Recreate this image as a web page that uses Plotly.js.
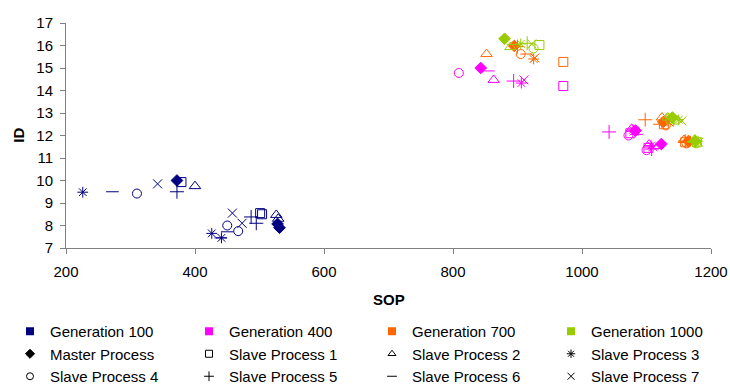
<!DOCTYPE html>
<html><head><meta charset="utf-8">
<script src="https://cdn.plot.ly/plotly-3.0.1.min.js"></script>
<style>body{margin:0;background:#fff}#chart{width:730px;height:385px}</style>
</head><body><div id="chart"></div>
<script>
// Generations (each contributes 3 points per process, in order 100, 400, 700, 1000)
const generations = ['Generation 100', 'Generation 400', 'Generation 700', 'Generation 1000'];
const genColors = ['#000080', '#FF00FF', '#FF6600', '#99CC00'];

const processes = ['Master Process', 'Slave Process 1', 'Slave Process 2', 'Slave Process 3',
  'Slave Process 4', 'Slave Process 5', 'Slave Process 6', 'Slave Process 7'];

const masterSOP = [372, 528, 531,  843, 1083, 1123,  895, 1126, 1165,  880, 1140, 1176];
const masterID  = [10.0, 8.07, 7.9, 15.0, 12.22, 11.62, 15.98, 12.6, 11.75, 16.3, 12.8, 11.75];
const slave1SOP = [379, 501, 504,  971, 1075, 1103,  971, 1127, 1160,  934, 1137, 1178];
const slave1ID  = [9.93, 8.55, 8.5, 14.2, 12.1, 11.45, 15.27, 12.5, 11.7, 16.02, 12.75, 11.7];
const slave2SOP = [400, 526, 529,  863, 1077, 1104,  852, 1124, 1158,  889, 1133, 1174];
const slave2ID  = [9.75, 8.47, 8.3, 14.47, 12.3, 11.6, 15.62, 12.8, 11.8, 15.93, 12.8, 11.8];
const slave3SOP = [226, 426, 441,  906, 1079, 1107,  925, 1132, 1168,  905, 1150, 1180];
const slave3ID  = [9.48, 7.65, 7.45, 14.33, 12.25, 11.55, 15.4, 12.65, 11.75, 16.07, 12.7, 11.75];
const slave4SOP = [310, 450, 467,  809, 1072, 1100,  905, 1130, 1162,  925, 1145, 1177];
const slave4ID  = [9.42, 8.0, 7.75, 14.78, 12.0, 11.35, 15.62, 12.45, 11.65, 15.87, 12.7, 11.65];
const slave5SOP = [372, 487, 495,  894, 1042, 1108,  900, 1098, 1160,  915, 1142, 1175];
const slave5ID  = [9.5, 8.38, 8.1, 14.42, 12.16, 11.4, 15.95, 12.7, 11.75, 16.1, 12.72, 11.75];
const slave6SOP = [272, 450, 440,  855, 1085, 1112,  914, 1120, 1163,  893, 1147, 1172];
const slave6ID  = [9.5, 7.72, 7.45, 14.87, 12.05, 11.42, 15.62, 12.5, 11.72, 16.05, 12.7, 11.72];
const slave7SOP = [342, 458, 473,  910, 1081, 1110,  927, 1135, 1166,  922, 1155, 1181];
const slave7ID  = [9.85, 8.55, 8.1, 14.47, 12.2, 11.5, 15.45, 12.6, 11.7, 16.07, 12.65, 11.7];

const xTicks = [200, 400, 600, 800, 1000, 1200];
const yTicks = [7, 8, 9, 10, 11, 12, 13, 14, 15, 16, 17];
const xTitle = 'SOP';
const yTitle = 'ID';

const procSOP = [masterSOP, slave1SOP, slave2SOP, slave3SOP, slave4SOP, slave5SOP, slave6SOP, slave7SOP];
const procID = [masterID, slave1ID, slave2ID, slave3ID, slave4ID, slave5ID, slave6ID, slave7ID];
const symbols = ['diamond', 'square-open', 'triangle-up-open', 'asterisk-open', 'circle-open',
  'cross-thin-open', 'line-ew-open', 'x-thin-open'];
const sizes = [9, 9, 10, 9, 9, 10, 9, 9];
const perGen = 3;

const traces = [];
generations.forEach((g, gi) => {
  processes.forEach((p, pi) => {
    traces.push({
      type: 'scatter', mode: 'markers', showlegend: false, hoverinfo: 'x+y',
      x: procSOP[pi].slice(gi * perGen, gi * perGen + perGen),
      y: procID[pi].slice(gi * perGen, gi * perGen + perGen),
      marker: { symbol: symbols[pi], size: sizes[pi], color: genColors[gi],
        line: { color: genColors[gi], width: 1 } }
    });
  });
});

// legend: 4 columns, each a separate legend
const legendIds = ['legend', 'legend2', 'legend3', 'legend4'];
const legendItems = [];
generations.forEach((g, gi) => legendItems.push({ name: g, kind: 'gen', i: gi }));
processes.forEach((p, pi) => legendItems.push({ name: p, kind: 'proc', i: pi }));
legendItems.forEach((it, k) => {
  const col = k % 4;
  const mk = it.kind === 'gen'
    ? { symbol: 'square', size: 8, color: genColors[it.i] }
    : { symbol: symbols[it.i], size: 7, color: '#000', line: { color: '#000', width: 1 } };
  traces.push({ type: 'scatter', mode: 'markers', name: it.name, x: [null], y: [null],
    legend: legendIds[col], legendrank: k, marker: mk });
});

const font = { family: 'Liberation Sans, Arial, sans-serif', size: 15, color: '#000' };
const legendTextX = [52, 231, 414, 593];
const mkLegend = (i) => ({
  orientation: 'v', xref: 'container', yref: 'container',
  x: (legendTextX[i] - 42) / 730, y: 1 - 315 / 385, xanchor: 'left', yanchor: 'top',
  itemwidth: 30, font: font, tracegroupgap: 0, bgcolor: 'rgba(0,0,0,0)', borderwidth: 0
});
const layout = {
  width: 730, height: 385,
  margin: { l: 66, r: 19, t: 23, b: 137, autoexpand: false },
  paper_bgcolor: '#fff', plot_bgcolor: '#fff',
  font: font,
  xaxis: {
    range: [200, 1200], tickvals: xTicks, ticktext: xTicks.map(String),
    showgrid: false, zeroline: false, showline: true, linecolor: '#808080', linewidth: 1,
    ticks: 'outside', ticklen: 5, tickcolor: '#808080', ticklabelstandoff: 5
  },
  yaxis: {
    range: [7, 17], tickvals: yTicks, ticktext: yTicks.map(String),
    showgrid: false, zeroline: false, showline: true, linecolor: '#808080', linewidth: 1,
    ticks: 'outside', ticklen: 5, tickcolor: '#808080', ticklabelstandoff: 4
  },
  annotations: [
    { text: '<b>' + xTitle + '</b>', xref: 'paper', yref: 'paper', x: 0.5, y: -0.23,
      xanchor: 'center', yanchor: 'middle', showarrow: false, font: font },
    { text: '<b>' + yTitle + '</b>', xref: 'paper', yref: 'paper', x: -0.074, y: 0.5,
      xanchor: 'center', yanchor: 'middle', textangle: -90, showarrow: false, font: font }
  ],
  legend: mkLegend(0), legend2: mkLegend(1), legend3: mkLegend(2), legend4: mkLegend(3),
  showlegend: true
};
Plotly.newPlot('chart', traces, layout, { staticPlot: true, displayModeBar: false });
</script></body></html>
